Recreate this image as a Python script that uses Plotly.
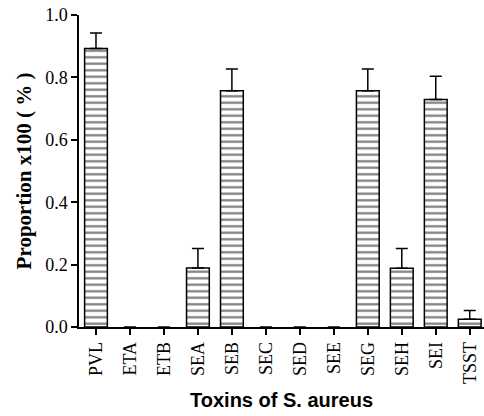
import plotly.graph_objects as go

categories = ["PVL", "ETA", "ETB", "SEA", "SEB", "SEC", "SED", "SEE", "SEG", "SEH", "SEI", "TSST"]
proportions = [0.893, 0, 0, 0.189, 0.757, 0, 0, 0, 0.757, 0.188, 0.729, 0.025]
errors_upper = [0.049, 0, 0, 0.063, 0.070, 0, 0, 0, 0.070, 0.064, 0.075, 0.028]
y_ticks = [0.0, 0.2, 0.4, 0.6, 0.8, 1.0]

x_idx = list(range(len(categories)))
outline_w = [1.5 if v > 0 else 0 for v in proportions]
err_plus = [e if v > 0 else None for e, v in zip(errors_upper, proportions)]
err_minus = [0 if v > 0 else None for v in proportions]

serif = "Liberation Serif, Times New Roman, serif"

fig = go.Figure()
fig.add_trace(go.Bar(
    x=x_idx,
    y=proportions,
    width=0.67,
    marker=dict(
        color="white",
        line=dict(color="black", width=outline_w),
        pattern=dict(shape="-", fgcolor="black", bgcolor="white", size=6.5, solidity=0.35),
    ),
    error_y=dict(
        type="data",
        symmetric=False,
        array=err_plus,
        arrayminus=err_minus,
        color="black",
        thickness=1.5,
        width=6,
    ),
    hoverinfo="skip",
    showlegend=False,
))

fig.update_layout(
    width=484,
    height=416,
    margin=dict(l=79, r=0, t=15, b=88.5, autoexpand=False),
    plot_bgcolor="white",
    paper_bgcolor="white",
    xaxis=dict(
        automargin=False,
        range=[-0.5, 11.42],
        tickmode="array",
        tickvals=x_idx,
        ticktext=categories,
        tickangle=-90,
        ticks="outside",
        ticklen=6,
        tickwidth=1.5,
        tickcolor="black",
        showline=True,
        linecolor="black",
        linewidth=1.5,
        showgrid=False,
        zeroline=False,
        ticklabeloverflow="allow",
        tickfont=dict(family=serif, size=18, color="black"),
        title=dict(text="<b>Toxins of S. aureus</b>",
                   font=dict(family="Liberation Sans, Arial, sans-serif", size=20, color="black"),
                   standoff=10),
    ),
    yaxis=dict(
        automargin=False,
        range=[0, 1.0],
        tickmode="array",
        tickvals=y_ticks,
        ticktext=[f"{v:.1f}" for v in y_ticks],
        ticks="outside",
        ticklen=6,
        tickwidth=1.5,
        tickcolor="black",
        showline=True,
        linecolor="black",
        linewidth=1.5,
        showgrid=False,
        zeroline=False,
        ticklabeloverflow="allow",
        tickfont=dict(family=serif, size=18, color="black"),
        title=dict(text="<b>Proportion x100 ( % )</b>",
                   font=dict(family=serif, size=21, color="black"),
                   standoff=8),
    ),
)

fig.write_html("out.html", config={"displayModeBar": False},
               post_script="document.body.style.margin='0';")
